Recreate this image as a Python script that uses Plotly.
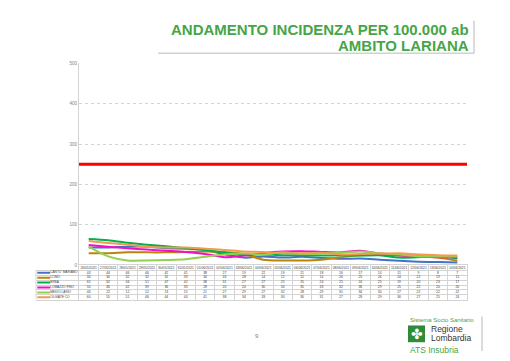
import plotly.graph_objects as go

W, H = 510, 361

dates = ["26/05/2021", "27/05/2021", "28/05/2021", "29/05/2021", "30/05/2021",
         "31/05/2021", "01/06/2021", "02/06/2021", "03/06/2021", "04/06/2021",
         "05/06/2021", "06/06/2021", "07/06/2021", "08/06/2021", "09/06/2021",
         "10/06/2021", "11/06/2021", "12/06/2021", "13/06/2021", "14/06/2021"]

series_names = ["CANTU' MARIANO", "COMO", "ERBA", "LOMAZZO FINO", "MEDIO LARIO", "OLGIATE CO"]
cantu_mariano = [44, 44, 46, 46, 42, 41, 38, 27, 19, 22, 19, 21, 18, 16, 17, 14, 11, 9, 8, 7]
como = [30, 30, 32, 32, 32, 33, 34, 33, 28, 14, 12, 12, 14, 20, 25, 26, 24, 22, 19, 11]
erba = [65, 62, 56, 51, 47, 42, 38, 31, 27, 27, 25, 25, 24, 25, 24, 25, 19, 20, 23, 17]
lomazzo_fino = [50, 46, 42, 39, 36, 33, 28, 20, 24, 30, 34, 35, 33, 32, 36, 29, 25, 22, 20, 20]
medio_lario = [46, 22, 12, 12, 13, 15, 21, 27, 29, 27, 32, 28, 29, 31, 34, 30, 27, 22, 22, 22]
olgiate_co = [60, 55, 51, 46, 44, 44, 41, 38, 34, 33, 30, 30, 31, 27, 28, 29, 30, 27, 25, 24]
series_values = [cantu_mariano, como, erba, lomazzo_fino, medio_lario, olgiate_co]
series_colors = ["#4472C4", "#B8860B", "#00B050", "#F010C8", "#92D050", "#F39A4E"]

threshold = 250
y_ticks = [0, 100, 200, 300, 400, 500]

title_line1 = "ANDAMENTO INCIDENZA PER 100.000 ab"
title_line2 = "AMBITO LARIANA"
page_number = "9"


def px(x):
    return x / W


def py(y):
    return 1 - y / H


GREEN = "#46A546"
GRID = "#d4d4d4"
TXT = "#404040"

fig = go.Figure()

# main lines
for name, vals, col in zip(series_names, series_values, series_colors):
    fig.add_trace(go.Scatter(x=dates, y=vals, mode="lines", name=name,
                             line=dict(color=col, width=2, shape="spline", smoothing=0.8),
                             xaxis="x", yaxis="y", hoverinfo="x+y+name"))

# data table: header row
fig.add_trace(go.Scatter(x=dates, y=[0] * len(dates), mode="text", text=dates,
                         textfont=dict(size=3.3, color=TXT, family="Liberation Sans"),
                         xaxis="x2", yaxis="y2", hoverinfo="skip"))
# data table: value rows
for k, vals in enumerate(series_values):
    fig.add_trace(go.Scatter(x=dates, y=[k + 1] * len(dates), mode="text",
                             text=[str(v) for v in vals],
                             textfont=dict(size=3.4, color=TXT, family="Liberation Sans"),
                             xaxis="x2", yaxis="y2", hoverinfo="skip"))
# legend column
for k, (name, col) in enumerate(zip(series_names, series_colors)):
    fig.add_trace(go.Scatter(x=[0.03, 0.33], y=[k + 1, k + 1], mode="lines",
                             line=dict(color=col, width=2),
                             xaxis="x3", yaxis="y2", hoverinfo="skip"))
    fig.add_trace(go.Scatter(x=[0.33], y=[k + 1], mode="text", text=[name],
                             textposition="middle right",
                             textfont=dict(size=3.2, color=TXT, family="Liberation Sans"),
                             xaxis="x3", yaxis="y2", hoverinfo="skip"))

shapes = [
    # threshold line
    dict(type="line", xref="x domain", x0=0, x1=1, yref="y", y0=threshold, y1=threshold,
         line=dict(color="#FF0000", width=3)),
    # legend column left border
    dict(type="line", xref="x3 domain", x0=0, x1=0, yref="y2", y0=0.5, y1=6.5,
         line=dict(color=GRID, width=1)),
    # title decorations
    dict(type="line", xref="paper", yref="paper", x0=px(158), x1=px(474), y0=py(52), y1=py(52),
         line=dict(color="#c9d6c9", width=1.5)),
    dict(type="line", xref="paper", yref="paper", x0=px(474), x1=px(474), y0=py(19), y1=py(52),
         line=dict(color="#b8b8b8", width=1)),
    # logo
    dict(type="rect", xref="paper", yref="paper", x0=px(408), x1=px(425), y0=py(345), y1=py(328),
         fillcolor="#2E8B3A", line=dict(width=0)),
    dict(type="line", xref="paper", yref="paper", x0=px(482), x1=px(482), y0=py(319), y1=py(354),
         line=dict(color="#b8b8b8", width=1)),
]

annotations = [
    dict(text="<b>%s</b>" % title_line1, x=px(471), y=py(28), xref="paper", yref="paper",
         xanchor="right", yanchor="middle", showarrow=False,
         font=dict(size=15, color=GREEN, family="Liberation Sans")),
    dict(text="<b>%s</b>" % title_line2, x=px(471), y=py(44.5), xref="paper", yref="paper",
         xanchor="right", yanchor="middle", showarrow=False,
         font=dict(size=15, color=GREEN, family="Liberation Sans")),
    dict(text=page_number, x=px(257), y=py(344), xref="paper", yref="paper",
         showarrow=False, font=dict(size=6, color="#808080", family="Liberation Sans")),
    dict(text="Sistema Socio Sanitario", x=px(408), y=py(322.5), xref="paper", yref="paper",
         xanchor="left", yanchor="middle", showarrow=False,
         font=dict(size=6, color=GREEN, family="Liberation Sans")),
    dict(text="✤", x=px(416.5), y=py(336.5), xref="paper", yref="paper",
         xanchor="center", yanchor="middle", showarrow=False,
         font=dict(size=14, color="white", family="DejaVu Sans")),
    dict(text="Regione", x=px(428.5), y=py(331.5), xref="paper", yref="paper",
         xanchor="left", yanchor="middle", showarrow=False,
         font=dict(size=8.5, color="#333333", family="Liberation Sans")),
    dict(text="Lombardia", x=px(428.5), y=py(340.5), xref="paper", yref="paper",
         xanchor="left", yanchor="middle", showarrow=False,
         font=dict(size=8.5, color="#333333", family="Liberation Sans")),
    dict(text="ATS Insubria", x=px(407.5), y=py(352.5), xref="paper", yref="paper",
         xanchor="left", yanchor="middle", showarrow=False,
         font=dict(size=8.5, color=GREEN, family="Liberation Sans")),
]

fig.update_layout(
    width=W, height=H, margin=dict(l=0, r=0, t=0, b=0),
    paper_bgcolor="white", plot_bgcolor="white", showlegend=False,
    font=dict(family="Liberation Sans", color=TXT),
    shapes=shapes, annotations=annotations,
    xaxis=dict(domain=[px(79), px(467)], type="category", categoryorder="array",
               categoryarray=dates, range=[-0.5, len(dates) - 0.5],
               showticklabels=False, showgrid=False, zeroline=False, showline=False,
               anchor="y"),
    yaxis=dict(domain=[py(267), py(62)], range=[0, 500], tickvals=y_ticks,
               showgrid=True, gridcolor=GRID, griddash="dot", gridwidth=1,
               zeroline=False, showline=True, linecolor=GRID, linewidth=1,
               tickfont=dict(size=4.5, color="#7f7f7f"), anchor="x"),
    xaxis2=dict(domain=[px(79), px(467)], type="category", categoryorder="array",
                categoryarray=dates, matches="x", tickson="boundaries",
                showticklabels=False, showgrid=True, gridcolor=GRID, gridwidth=1,
                showline=True, mirror=True, linecolor=GRID, zeroline=False, anchor="y2"),
    yaxis2=dict(domain=[py(302), py(267)], range=[6.5, -0.5],
                tickvals=[0.5, 1.5, 2.5, 3.5, 4.5, 5.5], showticklabels=False,
                showgrid=True, gridcolor=GRID, gridwidth=1, zeroline=False,
                showline=True, mirror=True, linecolor=GRID, anchor="x2"),
    xaxis3=dict(domain=[px(36), px(79)], range=[0, 1], showticklabels=False,
                showgrid=False, zeroline=False, showline=True, linecolor=GRID,
                anchor="y2"),
)

fig.write_html("out.html")
